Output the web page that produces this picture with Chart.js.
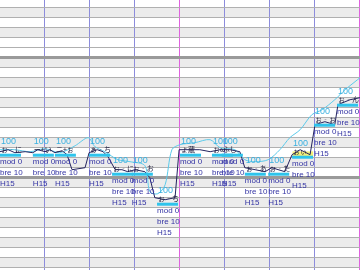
<!DOCTYPE html>
<html><head><meta charset="utf-8">
<script src="https://cdn.jsdelivr.net/npm/chart.js@4"></script>
<style>html,body{margin:0;padding:0;background:#fff;overflow:hidden}canvas{display:block}</style>
</head><body>
<canvas id="c" width="360" height="270"></canvas>
<script>
// ---- data ----
const cyanX = [0.2,3.5,6.9,10.2,13.5,16.9,19.8,21.3,23.5,26.4,29.1,32.4,33.5,35.3,36.9,38.4,40.2,43.5,46.9,49.1,52.4,54.6,56.9,59.8,62.4,64.6,66.9,69.5,71.8,74.6,76.9,79.1,80.2];
const cyanY = [11.8,11.8,11.6,11.9,11.5,12.2,13.0,12.1,11.6,10.8,10.6,10.2,7.6,7.4,8.3,11.8,12.3,12.5,12.8,12.0,11.8,10.8,10.6,10.8,11.8,13.0,13.8,15.3,15.8,16.8,17.8,18.6,19.0];
const darkX = [0.2,2,3.5,5.8,7.5,8.6,10.2,11.3,12.4,14,15.1,16.2,19.1,20,21.8,23.1,24.2,25.8,27.3,28.6,30.2,32.4,33.5,34.6,36.9,39.1,40,42.4,44.6,46.9,49.1,51.3,53.5,54.6,56.9,59.1,60.6,63.5,65.1,66.9,69.1,70.2,72.4,74.6,75.3,78,80.2];
const darkY = [11.6,11.8,11.5,11.6,11.5,11.8,11.6,11.8,11.5,11.7,11.3,9.8,10.0,11.5,11.8,11.6,11.1,9.8,9.8,9.6,9.8,9.6,9.0,7.0,6.8,7.0,11.8,11.8,11.8,11.6,11.8,11.8,11.6,10.0,9.8,9.6,10.0,9.6,11.3,11.8,11.3,14.3,14.6,14.3,16.3,16.8,17.0];
const markX = [0.2,7.5,12.4,20,25.1,29.5,35.1,40.2,47.3,49.5,54.6,59.8,65.1,70,75.1];
const markY = [11.3,11.3,11.3,11.3,9.4,9.4,6.4,11.3,11.3,11.3,9.4,9.4,11.1,14.3,16.3];
const topLabels = ['100','100','100','100','100','100','100','100','100','100','100','100','100','100','100'];
const line1Labels = ['mod 0','mod 0','mod 0','mod 0','mod 0','mod 0','mod 0','mod 0','mod 0','mod 0','mod 0','mod 0','mod 0','mod 0','mod 0'];
const line2Labels = ['bre 10','bre 10','bre 10','bre 10','bre 10','bre 10','bre 10','bre 10','bre 10','bre 10','bre 10','bre 10','bre 10','bre 10','bre 10'];
const line3Labels = ['H15','H15','H15','H15','H15','H15','H15','H15','H15','H15','H15','H15','H15','H15','H15'];
const noteLabels = ['ぉ‐に','ー+い','ニ+ぉ','ぁ‐ち','ぉ‐に','ぉ‐お','ぉ‐ち','ょ蔵','ぉω','ふし','ぉ‐あ','ぉ‐た','ぉぃ','ぉ‐ぉ','ぉ‐ん'];
const highlightX = [67.5];
const highlightLow = [11.1];
const highlightHigh = [11.6];

const pts = (xs, ys) => xs.map((x, i) => ({x, y: ys[i]}));

const bandsPlugin = {
  id: 'bands',
  beforeDraw(chart) {
    const {ctx, chartArea: a, scales: {y}} = chart;
    ctx.save();
    ctx.fillStyle = '#fff';
    ctx.fillRect(0, 0, chart.width, chart.height);
    ctx.fillStyle = '#ececec';
    for (let k = Math.floor(y.min); k < y.max; k++) {
      const shaded = (k <= 20 && k % 2 === 0) || (k >= 22 && k % 2 === 1);
      if (!shaded) continue;
      const t = y.getPixelForValue(Math.min(k + 1, y.max));
      const b = y.getPixelForValue(Math.max(k, y.min));
      ctx.fillRect(a.left, t, a.right - a.left, b - t);
    }
    ctx.restore();
  }
};

const labelPlugin = {
  id: 'labels',
  afterDatasetsDraw(chart) {
    const {ctx, scales: {x, y}} = chart;
    ctx.save();
    ctx.textBaseline = 'middle';
    ctx.textAlign = 'left';
    markX.forEach((mx, i) => {
      const px = x.getPixelForValue(mx);
      const py = y.getPixelForValue(markY[i]);
      ctx.fillStyle = '#2ec4ec';
      ctx.fillRect(px, py - 1, 21, 3);
      ctx.font = '7px "Noto Sans CJK JP"';
      ctx.fillStyle = '#202040';
      ctx.fillText(noteLabels[i], px + 1, py - 5);
      ctx.font = '9px "Liberation Sans"';
      ctx.fillStyle = '#3ab0e0';
      ctx.fillText(topLabels[i], px + 1, py - 13);
      ctx.font = '8px "Liberation Sans"';
      ctx.fillStyle = '#3434a4';
      ctx.fillText(line1Labels[i], px, py + 7);
      ctx.fillText(line2Labels[i], px, py + 18);
      ctx.fillText(line3Labels[i], px, py + 29);
    });
    ctx.restore();
  }
};

new Chart(document.getElementById('c'), {
  type: 'line',
  data: {
    datasets: [
      {type: 'bar', data: highlightX.map((hx, i) => ({x: hx, y: [highlightLow[i], highlightHigh[i]]})),
       backgroundColor: '#f4f078', borderWidth: 0, barThickness: 20, order: 3},
      {data: pts(cyanX, cyanY), borderColor: '#5ccbeb', borderWidth: 1, pointRadius: 0, tension: 0.3, fill: false, order: 2},
      {data: pts(darkX, darkY), borderColor: '#23235f', borderWidth: 1, pointRadius: 0, tension: 0, fill: false, order: 1}
    ]
  },
  options: {
    responsive: false, animation: false, devicePixelRatio: 1,
    layout: {padding: 0},
    plugins: {legend: {display: false}, tooltip: {enabled: false}},
    scales: {
      x: {
        type: 'linear', min: 0.2, max: 80.2, offset: false,
        afterBuildTicks: s => { s.ticks = [10,20,30,40,50,60,70,80].map(v => ({value: v})); },
        ticks: {display: false},
        border: {display: false},
        grid: {drawTicks: false, offset: false, lineWidth: 1,
          color: c => (c.tick && c.tick.value % 40 === 0) ? '#e060e0' : '#8c8cdc'}
      },
      y: {
        type: 'linear', min: -0.23, max: 26.77,
        afterBuildTicks: s => { const t = []; for (let k = 0; k <= 26; k++) t.push({value: k}); s.ticks = t; },
        ticks: {display: false},
        border: {display: false},
        grid: {drawTicks: false,
          color: c => (c.tick && (c.tick.value === 9 || c.tick.value === 21)) ? '#9a9a9a' : '#b0b0b0',
          lineWidth: c => (c.tick && (c.tick.value === 9 || c.tick.value === 21)) ? 3 : 1}
      }
    }
  },
  plugins: [bandsPlugin, labelPlugin]
});
</script>
</body></html>
